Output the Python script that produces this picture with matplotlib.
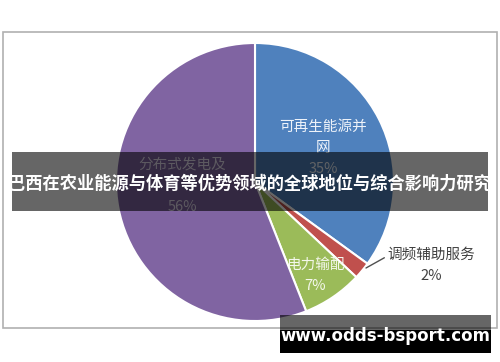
import matplotlib
matplotlib.use("Agg")
import matplotlib.pyplot as plt
from matplotlib.patches import Rectangle

plt.rcParams['font.family'] = ['Noto Sans CJK SC', 'DejaVu Sans']

# Market share by segment
categories = ["可再生能源并\n网", "调频辅助服务", "电力输配", "分布式发电及\n"]
values = [35, 2, 7, 56]
colors = ["#4F81BD", "#C0504D", "#9BBB59", "#8064A2"]
title = "巴西在农业能源与体育等优势领域的全球地位与综合影响力研究"
site = "www.odds-bsport.com"

W, H = 500, 362
fig = plt.figure(figsize=(W / 100, H / 100), dpi=100)

# background layer in pixel coordinates
bg = fig.add_axes([0, 0, 1, 1], zorder=0)
bg.set_xlim(0, W)
bg.set_ylim(H, 0)
bg.axis("off")
bg.add_patch(Rectangle((3, 32), 494, 296, fill=False, edgecolor="#b0b0b0", lw=1.2))

# pie axes: centre (255,182) px, radius 139 px
cx, cy, r = 255, 182, 139
pax = fig.add_axes([(cx - r) / W, (H - cy - r) / H, 2 * r / W, 2 * r / H], zorder=1)
wedges, _ = pax.pie(values, colors=colors, startangle=90, counterclock=False,
                    wedgeprops=dict(edgecolor="white", linewidth=1.5))
pax.set_xlim(-1, 1)
pax.set_ylim(-1, 1)
pax.set_aspect("equal")


def px(x, y):
    return ((x - cx) / r, (cy - y) / r)


def lbl(i):
    return f"{categories[i]}\n{values[i]}%"


inner = dict(ha="center", va="center", fontsize=10.5, linespacing=1.65)
pax.text(*px(323, 148), lbl(0), color="#eef3fa", **inner)
pax.text(*px(182, 186), lbl(3), color="#e6dff0", **inner)
pax.text(*px(315, 275), lbl(2), color="#f4f8ec", **inner)
pax.annotate(lbl(1), xy=px(366, 268), xytext=px(431, 265),
             ha="center", va="center", fontsize=10.5, linespacing=1.65,
             color="#404040",
             arrowprops=dict(arrowstyle="-", color="#505050", lw=1,
                             shrinkA=0, shrinkB=0,
                             relpos=(0.0, 0.75)))

# overlay layer
ov = fig.add_axes([0, 0, 1, 1], zorder=2)
ov.set_xlim(0, W)
ov.set_ylim(H, 0)
ov.axis("off")
ov.patch.set_alpha(0)
ov.add_patch(Rectangle((12, 152), 476, 59, facecolor="black", alpha=0.6, lw=0))
ov.text(250, 184, title, ha="center", va="center", color="white",
        fontsize=12.4, fontweight="bold")
ov.add_patch(Rectangle((280, 315), 211, 15, facecolor="black", alpha=0.6, lw=0))
ov.add_patch(Rectangle((280, 330), 211, 23, facecolor="black", lw=0))
ov.text(385, 336, site, ha="center", va="center", color="white",
        fontsize=12, fontweight="bold", family="DejaVu Sans")

fig.savefig("out.png", dpi=100)
